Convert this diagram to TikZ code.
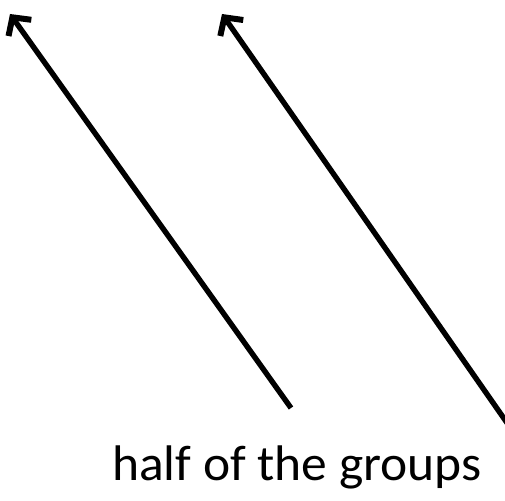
\documentclass[tikz,border=0pt]{standalone}
\usepackage{fontspec}
\setmainfont{Carlito}
\usetikzlibrary{arrows.meta}

\begin{document}
\begin{tikzpicture}[
    x=1pt, y=-1pt,
    arr/.style={-{Straight Barb[length=13pt, width=28pt, line width=6pt]}, line width=5.4pt},
    every node/.style={font=\fontsize{50}{54}\selectfont}
]
\useasboundingbox (0,0) rectangle (505,500);

% Arrow tails and tips
\coordinate (tailA) at (291,408);
\coordinate (tipA) at (10,14);
\coordinate (tailB) at (512,430);
\coordinate (tipB) at (222,14);

% Arrows
\draw[arr] (tailA) -- (tipA);
\draw[arr] (tailB) -- (tipB);

% Caption
\node[anchor=base west, inner sep=0pt, xscale=1.03] (caption) at (112,480) {half of the groups};

\end{tikzpicture}
\end{document}
